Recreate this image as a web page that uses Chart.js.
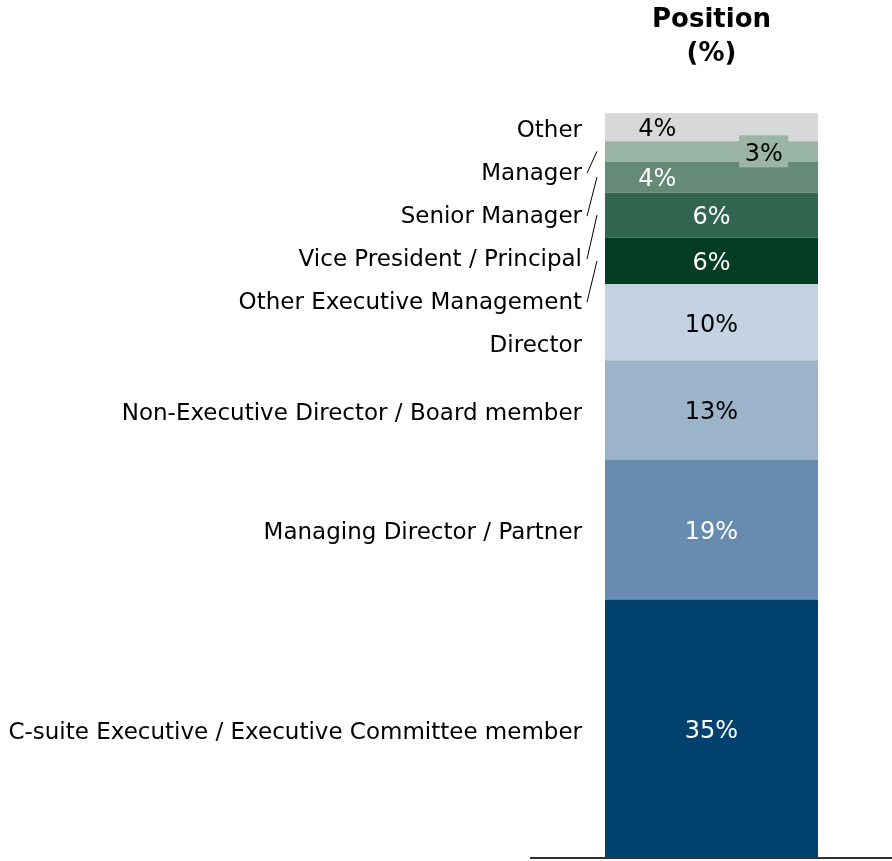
<!DOCTYPE html>
<html>
<head>
<meta charset="utf-8">
<script src="https://cdn.jsdelivr.net/npm/chart.js@4/dist/chart.umd.min.js"></script>
<style>
  html, body { margin: 0; padding: 0; background: #ffffff; }
  #wrap { width: 892px; height: 861px; position: relative; }
</style>
</head>
<body>
<div id="wrap"><canvas id="c" width="892" height="861"></canvas></div>
<script>
// ---- Data (bottom segment first) ----
const categories = ['Position'];
const segmentLabels = [
  'C-suite Executive / Executive Committee member',
  'Managing Director / Partner',
  'Non-Executive Director / Board member',
  'Director',
  'Other Executive Management',
  'Vice President / Principal',
  'Senior Manager',
  'Manager',
  'Other'
];
// shares (labels show rounded values)
const segmentValues = [34.7, 18.8, 13.3, 10.2, 6.3, 6.0, 4.2, 2.7, 3.8];
const valueLabels = ['35%', '19%', '13%', '10%', '6%', '6%', '4%', '3%', '4%'];
const titleLines = ['Position', '(%)'];

// ---- Styles ----
const segmentColors = ['#00416e', '#688caf', '#9bb4c9', '#c3d3e2', '#013c23', '#336650', '#668a78', '#9ab5a6', '#d7d8da'];
const valueColors = ['#ffffff', '#ffffff', '#000000', '#000000', '#ffffff', '#ffffff', '#ffffff', '#000000', '#000000'];
const valueAlign = ['center', 'center', 'center', 'center', 'center', 'center', 'left', 'right', 'left'];
const valueBoxed = [false, false, false, false, false, false, false, true, false];
const leaderLine = [false, false, false, false, true, true, true, true, false];

const FONT = '"DejaVu Sans", Verdana, sans-serif';
const LABEL_SIZE = 23;
const VALUE_SIZE = 24;

const datasets = segmentValues.map((v, i) => ({
  label: segmentLabels[i],
  data: [v],
  backgroundColor: segmentColors[i],
  borderWidth: 0,
  barPercentage: 1,
  categoryPercentage: 0.59
}));

const annotatePlugin = {
  id: 'annotate',
  afterDatasetsDraw(chart) {
    const ctx = chart.ctx;
    const y = chart.scales.y;

    const bar0 = chart.getDatasetMeta(0).data[0];
    const barLeft = bar0.x - bar0.width / 2;
    const barRight = bar0.x + bar0.width / 2;
    const cx = bar0.x;

    let cum = 0;
    const centers = segmentValues.map(v => {
      const c = y.getPixelForValue(cum + v / 2);
      cum += v;
      return c;
    });

    ctx.save();
    ctx.font = VALUE_SIZE + 'px ' + FONT;
    ctx.textBaseline = 'middle';
    ctx.textAlign = 'center';
    segmentValues.forEach((v, i) => {
      let tx = cx;
      if (valueAlign[i] === 'left') tx = barLeft + 0.245 * bar0.width;
      if (valueAlign[i] === 'right') tx = barRight - 0.255 * bar0.width;
      const ty = centers[i];
      if (valueBoxed[i]) {
        const w = 49;
        ctx.fillStyle = segmentColors[i];
        ctx.fillRect(tx - w / 2, ty - 16, w, 32);
      }
      ctx.fillStyle = valueColors[i];
      ctx.fillText(valueLabels[i], tx, ty + 3);
    });

    // category labels, top-down collision avoidance
    const gap = 43;
    const pos = new Array(segmentValues.length);
    let prev = -Infinity;
    for (let i = segmentValues.length - 1; i >= 0; i--) {
      const p = Math.max(centers[i], prev + gap);
      pos[i] = p;
      prev = p;
    }
    ctx.font = LABEL_SIZE + 'px ' + FONT;
    ctx.fillStyle = '#000000';
    ctx.textAlign = 'right';
    const labelRight = barLeft - 23;
    segmentLabels.forEach((s, i) => {
      ctx.fillText(s, labelRight, pos[i] + 4);
    });

    ctx.strokeStyle = '#000000';
    ctx.lineWidth = 1;
    segmentLabels.forEach((s, i) => {
      if (!leaderLine[i]) return;
      ctx.beginPath();
      ctx.moveTo(labelRight + 5, pos[i] + 3);
      ctx.lineTo(barLeft - 8, centers[i]);
      ctx.stroke();
    });

    ctx.font = 'bold 26px ' + FONT;
    ctx.textAlign = 'center';
    titleLines.forEach((t, k) => {
      ctx.fillText(t, cx, 20 + k * 34);
    });
    ctx.restore();
  }
};

new Chart(document.getElementById('c'), {
  type: 'bar',
  data: { labels: categories, datasets },
  options: {
    responsive: false,
    animation: false,
    layout: { padding: { left: 531, right: 0, top: 113, bottom: 3 } },
    plugins: { legend: { display: false }, tooltip: { enabled: false }, title: { display: false } },
    scales: {
      x: {
        stacked: true,
        grid: { display: false, drawTicks: false },
        border: { display: true, color: '#333333', width: 2 },
        ticks: { display: false }
      },
      y: {
        stacked: true,
        display: false,
        min: 0,
        max: 100
      }
    }
  },
  plugins: [annotatePlugin]
});
</script>
</body>
</html>
